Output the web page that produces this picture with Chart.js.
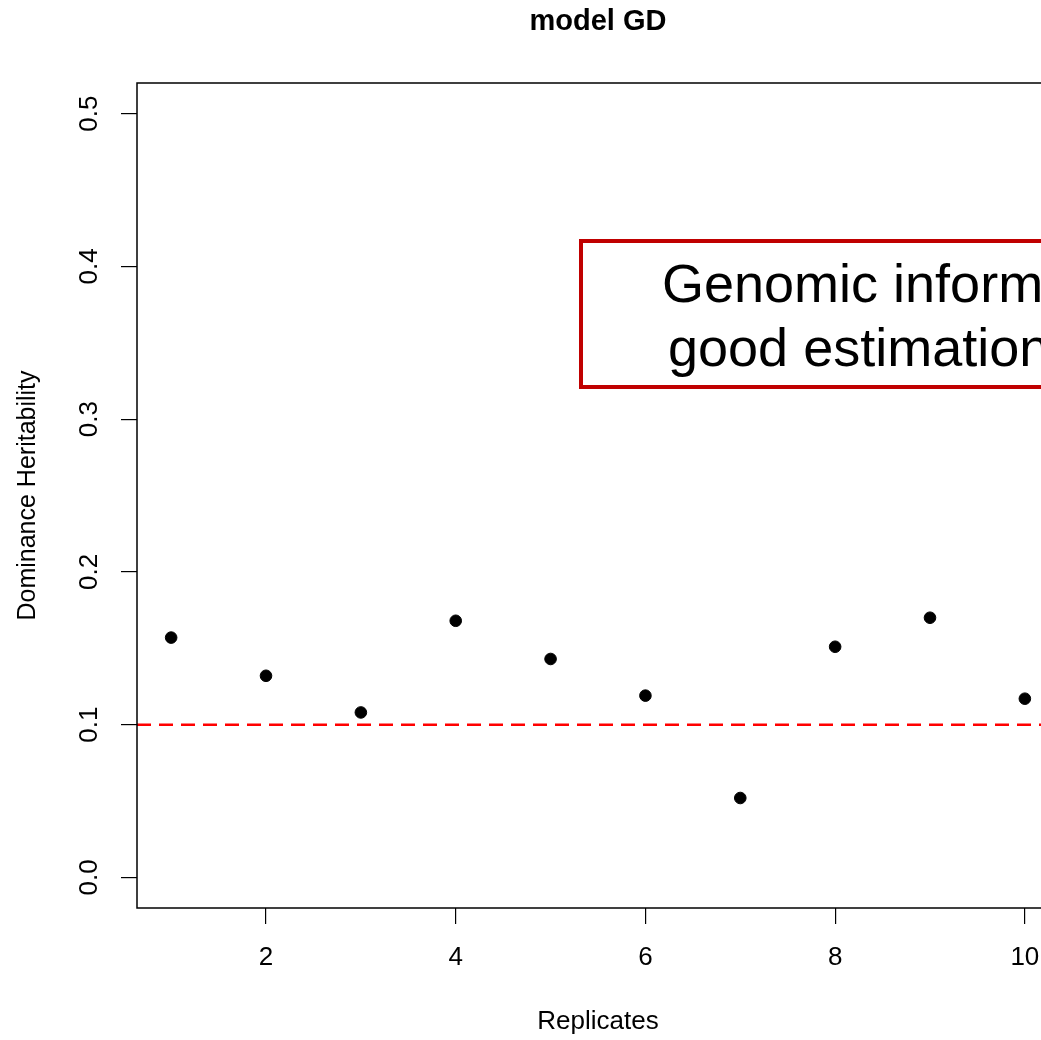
<!DOCTYPE html>
<html>
<head>
<meta charset="utf-8">
<script src="https://cdn.jsdelivr.net/npm/chart.js@4.4.1/dist/chart.umd.min.js"></script>
<style>
  html, body { margin: 0; padding: 0; background: #ffffff; overflow: hidden; width: 1041px; height: 1040px; }
  #wrap { position: absolute; left: 0; top: 0; width: 1100px; height: 1040px; }
  canvas { display: block; }
</style>
</head>
<body>
<div id="wrap"><canvas id="c" width="1100" height="1040"></canvas></div>
<script>
// ---- data ----
const replicates = [1, 2, 3, 4, 5, 6, 7, 8, 9, 10];
const dominanceH2 = [0.157, 0.132, 0.108, 0.168, 0.143, 0.119, 0.052, 0.151, 0.170, 0.117];
const trueValue = 0.1;
const xTickValues = [2, 4, 6, 8, 10];
const yTickValues = [0.0, 0.1, 0.2, 0.3, 0.4, 0.5];
const yTickLabels = ['0.0', '0.1', '0.2', '0.3', '0.4', '0.5'];
const chartTitle = 'model GD';
const xAxisTitle = 'Replicates';
const yAxisTitle = 'Dominance Heritability';
const noteLines = ['Genomic information', 'good estimation'];

// R-style 4% axis extension
const xMin = 1 - 0.04 * 9, xMax = 10 + 0.04 * 9;
const yMin = 0 - 0.04 * 0.5, yMax = 0.5 + 0.04 * 0.5;

const FONT = '"Liberation Sans", Arial, Helvetica, sans-serif';

const points = replicates.map((r, i) => ({ x: r, y: dominanceH2[i] }));
const refLine = [{ x: xMin, y: trueValue }, { x: xMax, y: trueValue }];

const decor = {
  id: 'decor',
  afterDatasetsDraw(chart) {
    const ctx = chart.ctx;
    const a = chart.chartArea;
    const ys = chart.scales.y;
    ctx.save();
    // frame
    ctx.strokeStyle = '#000';
    ctx.lineWidth = 1.5;
    ctx.strokeRect(a.left, a.top, a.right - a.left, a.bottom - a.top);
    // title
    ctx.fillStyle = '#000';
    ctx.textAlign = 'center';
    ctx.textBaseline = 'middle';
    ctx.font = 'bold 29px ' + FONT;
    ctx.fillText(chartTitle, (a.left + a.right) / 2, 22);
    // x axis title
    ctx.font = '26px ' + FONT;
    ctx.fillText(xAxisTitle, (a.left + a.right) / 2, 1022);
    // y tick labels (rotated)
    yTickValues.forEach((v, i) => {
      const py = ys.getPixelForValue(v);
      ctx.save();
      ctx.translate(90, py);
      ctx.rotate(-Math.PI / 2);
      ctx.font = '26px ' + FONT;
      ctx.fillText(yTickLabels[i], 0, 0);
      ctx.restore();
    });
    // y axis title
    ctx.save();
    ctx.translate(28, (a.top + a.bottom) / 2);
    ctx.rotate(-Math.PI / 2);
    ctx.font = '25px ' + FONT;
    ctx.fillText(yAxisTitle, 0, 0);
    ctx.restore();
    // annotation box
    ctx.strokeStyle = '#C00000';
    ctx.lineWidth = 4;
    ctx.strokeRect(581, 241, 560, 146);
    ctx.fillStyle = '#000';
    ctx.textAlign = 'left';
    ctx.textBaseline = 'alphabetic';
    ctx.font = '54px ' + FONT;
    ctx.fillText(noteLines[0], 662, 302);
    ctx.fillText(noteLines[1], 668, 366);
    ctx.restore();
  }
};

new Chart(document.getElementById('c'), {
  type: 'scatter',
  data: {
    datasets: [
      {
        label: 'h2d',
        data: points,
        backgroundColor: '#000',
        borderColor: '#000',
        pointRadius: 5.8,
        pointHoverRadius: 5.8,
        order: 1
      },
      {
        label: 'true',
        type: 'line',
        data: refLine,
        borderColor: '#FF0000',
        borderWidth: 2.5,
        borderDash: [14, 8],
        pointRadius: 0,
        fill: false,
        order: 2
      }
    ]
  },
  options: {
    responsive: false,
    animation: false,
    events: [],
    layout: { padding: { left: 0, top: 83, right: 41, bottom: 0 } },
    plugins: { legend: { display: false }, tooltip: { enabled: false }, title: { display: false } },
    scales: {
      x: {
        type: 'linear',
        min: xMin, max: xMax,
        afterBuildTicks: s => { s.ticks = xTickValues.map(v => ({ value: v })); },
        afterFit: s => { s.height = 132; },
        border: { display: false },
        grid: { drawOnChartArea: false, drawTicks: true, tickLength: 16, tickColor: '#000', lineWidth: 1.2 },
        ticks: { color: '#000', font: { family: FONT, size: 26 }, padding: 18, maxRotation: 0, callback: v => String(v) }
      },
      y: {
        type: 'linear',
        min: yMin, max: yMax,
        afterBuildTicks: s => { s.ticks = yTickValues.map(v => ({ value: v })); },
        afterFit: s => { s.width = 137; },
        border: { display: false },
        grid: { drawOnChartArea: false, drawTicks: true, tickLength: 16, tickColor: '#000', lineWidth: 1.2 },
        ticks: { display: false }
      }
    }
  },
  plugins: [decor]
});
</script>
</body>
</html>
